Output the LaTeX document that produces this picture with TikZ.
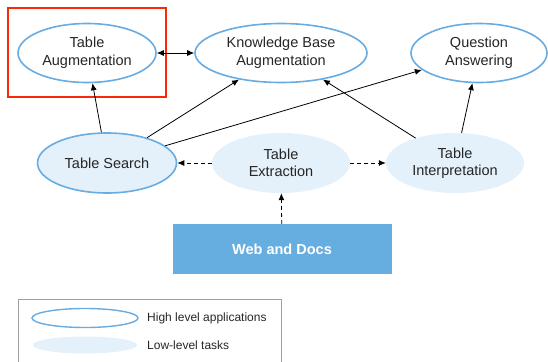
\documentclass[tikz,border=0pt]{standalone}
\usepackage{fontspec}
\setmainfont{Liberation Sans}
\usetikzlibrary{shapes.geometric,arrows.meta}
\definecolor{hiblue}{RGB}{104,172,226}
\definecolor{lofill}{RGB}{228,240,250}
\definecolor{boxblue}{RGB}{103,174,224}
\definecolor{redbox}{RGB}{250,40,10}
\definecolor{legendgray}{RGB}{160,160,160}
\tikzset{
  hi/.style={ellipse, draw=hiblue, line width=1.6pt, fill=white, align=center, inner sep=0pt, font=\fontsize{14.5}{17.5}\selectfont, text=black!85},
  lo/.style={ellipse, fill=lofill, align=center, inner sep=0pt, font=\fontsize{14.5}{17.5}\selectfont, text=black!85},
  arr/.style={line width=0.8pt, -{Latex[length=7pt,width=6pt]}},
  darr/.style={line width=0.8pt, dash pattern=on 4pt off 3pt, -{Latex[length=7pt,width=6pt]}},
  legtext/.style={anchor=west, font=\fontsize{12}{14}\selectfont, text=black!85, inner sep=0pt}
}
\begin{document}
\begin{tikzpicture}[x=1pt,y=-1pt]
\useasboundingbox (0,0) rectangle (548,361);
% red highlight box
\draw[redbox, line width=2.4pt] (8,8) rectangle (166,97);
% high-level nodes
\node[hi, minimum width=138pt, minimum height=59pt] (ta) at (87,53) {Table\\Augmentation};
\node[hi, minimum width=172pt, minimum height=59pt] (kb) at (281,53) {Knowledge Base\\Augmentation};
\node[hi, minimum width=136pt, minimum height=59pt] (qa) at (479,53) {Question\\Answering};
% low-level nodes
\node[lo, minimum width=139pt, minimum height=60pt, draw=hiblue, line width=1.6pt] (ts) at (107,163) {Table Search};
\node[lo, minimum width=138pt, minimum height=60pt] (te) at (281,163) {Table\\Extraction};
\node[lo, minimum width=138pt, minimum height=60pt] (ti) at (455,163) {Table\\Interpretation};
% source box
\node[fill=boxblue, minimum width=219pt, minimum height=50pt, inner sep=0pt, text=white, font=\bfseries\fontsize{14.5}{17}\selectfont] (wd) at (282,249) {Web and Docs};
% connectors
\draw[line width=0.8pt, {Latex[length=7pt,width=6pt]}-{Latex[length=7pt,width=6pt]}] (ta) -- (kb);
\draw[arr] (ts) -- (ta);
\draw[arr] (ts) -- (kb);
\draw[arr] (ts) -- (qa);
\draw[arr] (ti) -- (kb);
\draw[arr] (ti) -- (qa);
\draw[darr] (te) -- (ts);
\draw[darr] (te) -- (ti);
\draw[darr] (wd) -- (te);
% legend
\draw[legendgray, line width=0.8pt] (18,363) -- (18,299) -- (281,299) -- (281,363);
\node[ellipse, draw=hiblue, line width=1.4pt, minimum width=106pt, minimum height=19pt, inner sep=0pt] (lhi) at (85,318) {};
\node[ellipse, fill=lofill, minimum width=104pt, minimum height=17pt, inner sep=0pt] (llo) at (85,345) {};
\node[legtext] (lhit) at (147,318) {High level applications};
\node[legtext] (llot) at (147,345) {Low-level tasks};
\end{tikzpicture}
\end{document}
